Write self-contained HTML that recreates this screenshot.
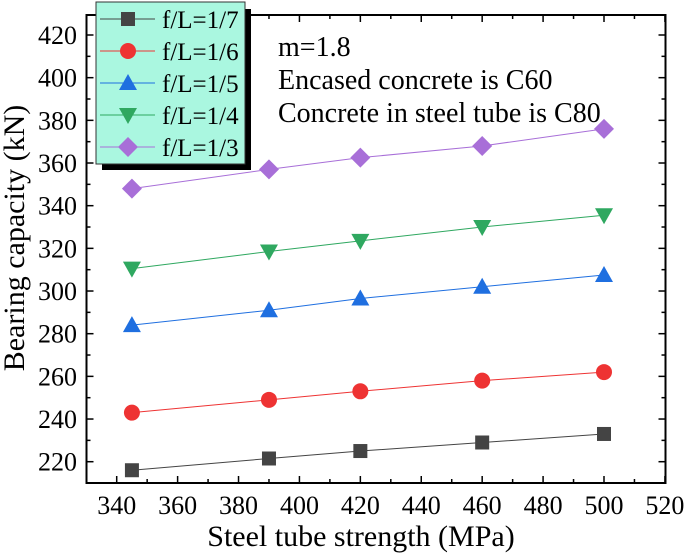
<!DOCTYPE html>
<html><head><style>
body{margin:0;background:#fff}
svg text{font-family:"Liberation Serif","Times New Roman",serif;fill:#000}
</style></head><body>
<svg width="685" height="554" id="c" font-family="Liberation Serif, serif">
</svg>
<script>
const xTicks=[340,360,380,400,420,440,460,480,500,520];
const yTicks=[220,240,260,280,300,320,340,360,380,400,420];
const strengths=[345,390,420,460,500];
const s17=[216,221.5,225,229,233];
const s16=[243,249,253,258,262];
const s15=[284,291,296.5,302,307.5];
const s14=[310.5,318.5,323.5,330,335.5];
const s13=[348,357,362.5,368,376];
const labels=["f/L=1/7","f/L=1/6","f/L=1/5","f/L=1/4","f/L=1/3"];
const NS="http://www.w3.org/2000/svg";
const svg=document.getElementById('c');
const L=86.5,R=665.5,T=15,B=483;
const X=v=>116.7+(v-340)*(604-116.7)/160;
const Y=v=>461.7-(v-220)*(461.7-35)/200;
function el(t,a,p){const e=document.createElementNS(NS,t);for(const k in a)e.setAttribute(k,a[k]);(p||svg).appendChild(e);return e;}
const frame=el('rect',{x:L,y:T,width:R-L,height:B-T,fill:'none',stroke:'#000','stroke-width':2});


xTicks.forEach((v,i)=>{
  const x=X(v);
  el('line',{x1:x,y1:B,x2:x,y2:B-7,stroke:'#000','stroke-width':1.5});
  el('line',{x1:x,y1:T,x2:x,y2:T+7,stroke:'#000','stroke-width':1.5});
  const m=X(v+10); if(m<R){el('line',{x1:m,y1:B,x2:m,y2:B-4,stroke:'#000','stroke-width':1.5});el('line',{x1:m,y1:T,x2:m,y2:T+4,stroke:'#000','stroke-width':1.5});}
  const t=el('text',{x:x,y:B+31,'text-anchor':'middle','font-size':26});t.textContent=v;
  
  
});
yTicks.forEach(v=>{
  const y=Y(v);
  el('line',{x1:L,y1:y,x2:L+7,y2:y,stroke:'#000','stroke-width':1.5});
  el('line',{x1:R,y1:y,x2:R-7,y2:y,stroke:'#000','stroke-width':1.5});
  const m=Y(v-10); if(m<B){el('line',{x1:L,y1:m,x2:L+4,y2:m,stroke:'#000','stroke-width':1.5});el('line',{x1:R,y1:m,x2:R-4,y2:m,stroke:'#000','stroke-width':1.5});}
  const t=el('text',{x:77,y:y+9,'text-anchor':'end','font-size':26});t.textContent=v;
  
  
});
const xt=el('text',{x:361,y:546,'text-anchor':'middle','font-size':30});xt.textContent='Steel tube strength (MPa)';


const yt=el('text',{x:0,y:0,'text-anchor':'middle','font-size':30,transform:`translate(24,238) rotate(-90)`});yt.textContent='Bearing capacity (kN)';


const series=[s17,s16,s15,s14,s13];
const colors=['#444','#ee3333','#1f6fe0','#2fa860','#a86fd8'];
const shapes=['sq','ci','tu','td','di'];
function marker(sh,x,y,c,g){
  if(sh==='sq')return el('rect',{x:x-7,y:y-7,width:14,height:14,fill:c},g);
  if(sh==='ci')return el('circle',{cx:x,cy:y,r:8,fill:c},g);
  if(sh==='tu')return el('polygon',{points:`${x-9},${y+7} ${x+9},${y+7} ${x},${y-9}`,fill:c},g);
  if(sh==='td')return el('polygon',{points:`${x-9},${y-7} ${x+9},${y-7} ${x},${y+9}`,fill:c},g);
  return el('polygon',{points:`${x},${y-10} ${x+10},${y} ${x},${y+10} ${x-10},${y}`,fill:c},g);
}
series.forEach((s,i)=>{
  const g=el('g',{});
  
  
  el('polyline',{points:s.map((v,j)=>X(strengths[j])+','+Y(v)).join(' '),fill:'none',stroke:colors[i],'stroke-width':1},g);
  s.forEach((v,j)=>{const m=marker(shapes[i],X(strengths[j]),Y(v),colors[i],g);
    
    });
});
const lg=el('g',{});


el('rect',{x:102,y:9,width:149,height:161,fill:'#000'},lg);
el('rect',{x:96,y:2,width:149,height:162,fill:'#aaf7e0',stroke:'#333','stroke-width':1},lg);
labels.forEach((lb,i)=>{
  const y=19+i*32;
  el('line',{x1:100,y1:y,x2:155,y2:y,stroke:colors[i],'stroke-width':1},lg);
  marker(shapes[i],128,y,colors[i],lg);
  const t=el('text',{x:162,y:y+9,'font-size':25},lg);t.textContent=lb;
  
  
});
const notes=['m=1.8','Encased concrete is C60','Concrete in steel tube is C80'];
notes.forEach((n,i)=>{const t=el('text',{x:278,y:56+i*33,'font-size':28});t.textContent=n;
  
  });
</script>
</body></html>
